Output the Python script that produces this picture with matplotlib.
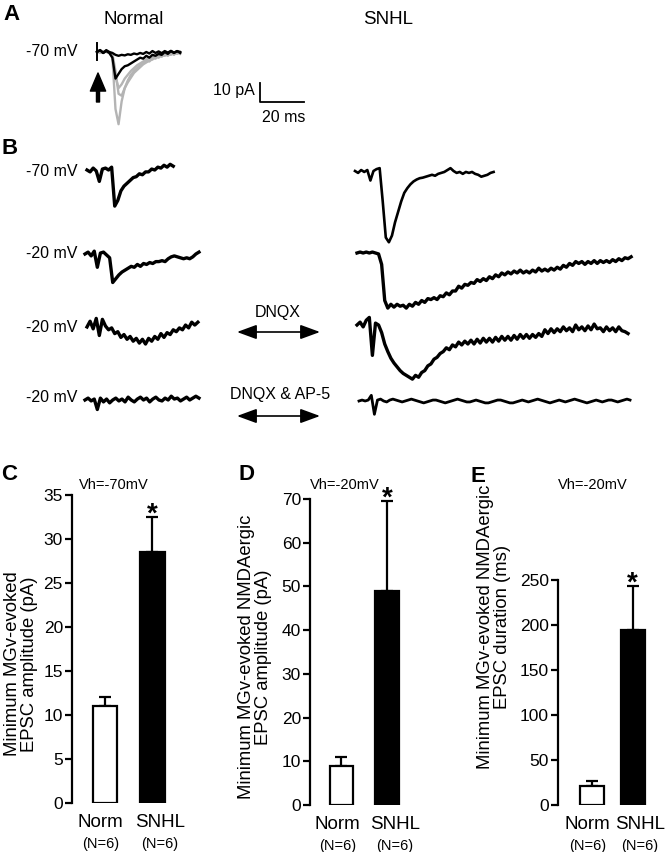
'''
Recreation of a thalamocortical EPSC figure: example traces (A, B)
and bar summaries of minimum MGv-evoked EPSCs (C, D, E)
'''

import numpy as np
import matplotlib
matplotlib.use('Agg')
import matplotlib.pyplot as plt

plt.rcParams['font.family'] = ['Liberation Sans', 'DejaVu Sans']
NARROW = ['Liberation Sans Narrow', 'Liberation Sans', 'DejaVu Sans']

# ========================================================================
# data
# ========================================================================

# sampling interval of all traces (ms), currents in pA relative to baseline
DT = 1.4

# panel A, Normal at -70 mV (overlaid sweeps)
a_gray1 = [0, 0.5, -0.5, 0.5, 0, -3, -30, -38, -26, -19, -15, -12, -10, -8.5,
           -7, -6, -4, -5, -3, -3.5, -1.5, -2.5, -1, -2, -0.5, -1.5, 0, -1]
a_gray2 = [0, -0.5, 0.5, 0, -0.5, -1, -10, -22, -23, -19, -16, -13.5, -11, -9.5,
           -8, -6.5, -5.5, -4.5, -4, -2.5, -3, -1.5, -2, -1, -1.5, 0, -1, 0]
a_gray3 = [0.5, 0, -0.5, 0.5, -0.5, -2, -13, -19, -17, -14, -12, -10, -8.5, -7,
           -6, -5, -4, -3, -2.5, -2, -1, -1.5, -0.5, -1, 0, -0.5, 0.5, 0]
a_black2 = [0, 1, -0.5, 0.5, -0.5, -3, -14, -11.5, -9, -7.5, -7, -6, -5, -4,
            -3, -3.5, -2, -3, -1.5, -2, -1, -1.5, 0, -1, 0.5, -0.5, 0.5, -0.5]
a_black1 = [0, 1, -0.5, 1, 0, -0.5, -1.5, -2, -1.5, -1.8, -1.2, -1.5, -0.8, -1.2,
            -0.5, -1, 0, -0.8, 0.5, -0.5, 0.3, -0.6, 0.5, -0.3, 0.6, -0.4, 0.4, 0]
a_stim = [4.7, -4.2]

# panel B, Normal
b_norm_70 = [0, -1, 1, -0.5, -6, 0.5, 1, 0, 1.5, -19, -16, -11, -8.5, -7, -5.5,
             -4, -3.5, -2, -2.5, -1, -1, 0.5, 0, 1.5, 1, 2.5, 1.5, 3, 2]
b_norm_20 = [0, 1, -1, 1.5, -7, 0.5, 1, -0.5, -2, -15, -13, -11, -9.5, -8.5, -7.5,
             -6.5, -7, -5.5, -6.5, -5, -5.5, -4.5, -5, -4, -4, -3.5, -4, -2.5,
             -1.5, -1, -1.5, -2, -2.5, -2, -2.5, -1.5, 0, 1]
b_norm_dnqx = [-0.5, 2.5, -1.5, 4, -5, 3.5, 0, -2, -1, -4, -3, -6, -4.5, -7, -5.5,
               -8, -6.5, -9, -7, -9.5, -6.5, -8, -5.5, -7, -4, -6, -3.5, -4.5,
               -2, -3, -1, -2, 0.5, -1, 2, 0.5, 2]
b_norm_ap5 = [0, 1, -0.5, 0.5, -5, 1, -1, 0.5, -1.5, 0, 1, -0.5, 0.5, -1, 1.5,
              0, -1, 0.5, 1.5, 0, 1, -1, 0.5, 1.5, 0, -0.5, 1, 0, 2, 0.5, 1,
              -0.5, 0.5, 1.5, 0, 1, 2, 1]

# panel B, SNHL
b_snhl_70 = [0, -1, 0.5, -0.5, 0.5, -5, 0, 1, 1.5, -16, -35, -37.5, -34, -27,
             -21.5, -16, -11.5, -9, -7, -5.5, -4.5, -3.8, -3.5, -3, -2.5, -2,
             -2.5, -1.5, -1, -0.5, 0.5, 1.5, 0, -1, -0.5, -1.5, -0.5, -1, -0.5,
             -1.5, -2, -3, -2.5, -2, -1, -0.5]
b_snhl_20 = [0, 0.5, 0, 0.5, 0, 0.5, 0, -0.5,
             -6, -25, -29, -27, -28.5, -27, -28, -27.5, -29, -27, -28, -26, -27,
             -25, -26, -24, -24.5, -23.5, -24.5, -22.5, -23, -21, -22, -20, -20,
             -17.5, -18.5, -16.5, -17, -15.5, -16, -14, -15, -13.5, -14.5, -12.5,
             -13.5, -11.5, -12.5, -10.5, -11.5, -10, -11, -9.5, -10.5, -9, -10.5,
             -9.5, -10.5, -9, -10, -8, -9.5,
             -8.5, -9.5, -8, -9, -7.5, -8.5, -6.5, -7.5, -5.5, -6.5, -4.5, -5.5,
             -4.5, -6, -4.5, -5.5, -4, -5.5, -4, -5, -4, -5, -3.5, -4.5, -3, -4,
             -2.5, -3, -2]
b_snhl_dnqx = [0, 1.5, -1, 2.5, 4, -16, 1, 0,
               -4, -10, -14, -17.5, -20, -22, -24, -25.5, -26.5, -27.5, -28.5,
               -26.5, -27.5, -25, -24, -21.5, -20.5, -18, -17, -15, -14, -12, -13,
               -10.5, -11.5, -9, -10.5, -8.5, -10, -8, -10, -7.5, -9.5, -7, -9,
               -7, -9, -6.5, -8.5, -6, -8, -6, -8, -5.5, -7.5, -5, -7,
               -5, -7, -5, -6.5, -4.5, -6, -2.5, -4.5, -2, -4, -2, -3.5, -1, -3,
               -1.5, -3.5, 0, -2.5, -1, -3, -0.5, -2.5, 0.5, -2, -1.5, -3.5, -1,
               -3, -1.5, -3.5, -1, -3, -3.5, -4.5]
b_snhl_ap5 = [0, 0.5, 0, 0.5, 3, -7, 0.5, 1, 0, -0.5, 0.5, 1, 0.5, 0, -0.5, 0,
              0.5, 1, 0.5, 0, -0.5, -1, -0.5, 0, 0.5, 0.5, 0, -0.5, -1, -0.5, 0,
              0.5, 1, 0.5, 0, -0.5, -0.5, 0, 0.5, 0, -0.5, -1, -1, -0.5, 0, 0.5,
              0.5, 0, -0.5, -1, -1, -0.5, 0, 0.5, 0, -0.5, 0, 0.5, 1, 0.5, 0,
              -0.5, -1, -0.5, 0, 0.5, 0, -0.5, 0, 0.5, 1, 0.5, 0, -0.5, -1, -0.5,
              0, 0.5, 0, -0.5, 0, 0.5, 0.5, 0, -0.5, 0, 0.5, 1, 0.5]

# bar summaries
groups = ['Norm', 'SNHL']
group_n = ['(N=6)', '(N=6)']
c_mean = [11, 28.5]
c_err = [1, 4]
d_mean = [9, 49]
d_err = [2, 20.5]
e_mean = [21, 194]
e_err = [5.5, 49]

# ========================================================================
# figure layout (pixel based)
# ========================================================================
W, H = 666, 852
PX_MS = 2.2   # px per ms (20 ms scale bar = 44 px)
PX_PA = 1.9   # px per pA (10 pA scale bar = 19 px)

fig = plt.figure(figsize=(W/100, H/100), dpi=100)
ax = fig.add_axes([0, 0, 1, 1])
ax.set_xlim(0, W/PX_MS)
ax.set_ylim(-H/PX_PA, 0)
ax.axis('off')


def px(x, y):
    return x/PX_MS, -y/PX_PA


def trace(vals, x0, y0, color='k', lw=2.4):
    t0, i0 = px(x0, y0)
    t = t0 + np.arange(len(vals))*DT
    ax.plot(t, i0 + np.asarray(vals), color=color, lw=lw,
            solid_joinstyle='round')


def label(x, y, s, size=11, **kw):
    ax.text(*px(x, y), s, fontsize=size, va='center', **kw)


# ------------------------------------------------------------------ A
label(12, 15, 'A', 16, ha='center', fontweight='bold')
label(134, 19, 'Normal', 13.5, ha='center')
label(388, 20, 'SNHL', 13.5, ha='center')
label(77, 52, '-70 mV', 11.5, ha='right')

gray = '#b4b4b4'
for tr in [a_gray1, a_gray2, a_gray3]:
    trace(tr, 97, 52, gray, 1.7)
for tr in [a_black2, a_black1]:
    trace(tr, 97, 52, 'k', 1.7)
t0, i0 = px(97, 52)
ax.plot([t0, t0], [i0 + a_stim[0], i0 + a_stim[1]], color='k', lw=1.4)

# stimulus arrow
ax.annotate('', xy=px(98, 73), xytext=px(98, 102),
            arrowprops=dict(facecolor='black', edgecolor='black',
                            width=2.2, headwidth=11, headlength=13, shrink=0))

# scale bar 10 pA / 20 ms
sx, sy = px(260, 102)
ax.plot([sx, sx, sx + 20], [sy + 10, sy, sy], color='k', lw=1.3)
label(255, 90, '10 pA', 11.5, ha='right')
label(284, 117, '20 ms', 11.5, ha='center')

# ------------------------------------------------------------------ B
label(10, 148, 'B', 16, ha='center', fontweight='bold')
label(77, 172, '-70 mV', 11.5, ha='right')
label(77, 253, '-20 mV', 11.5, ha='right')
label(77, 327, '-20 mV', 11.5, ha='right')
label(77, 397, '-20 mV', 11.5, ha='right')

trace(b_norm_70, 87, 170)
trace(b_norm_20, 85, 254)
trace(b_norm_dnqx, 87, 326)
trace(b_norm_ap5, 85, 400)

trace(b_snhl_70, 355, 171, lw=1.9)
trace(b_snhl_20, 357, 253)
trace(b_snhl_dnqx, 357, 325)
trace(b_snhl_ap5, 359, 401, lw=2.0)

label(278, 313, 'DNQX', 11.5, ha='center')
label(280, 395, 'DNQX & AP-5', 11.5, ha='center')
for yy in [332, 416]:
    ax.annotate('', xy=px(320, yy), xytext=px(237, yy),
                arrowprops=dict(arrowstyle='<|-|>,head_length=0.6,head_width=0.22',
                                mutation_scale=20, color='k', lw=1.2,
                                shrinkA=0, shrinkB=0))

# ========================================================================
# bar panels C, D, E
# ========================================================================


def bar_panel(left, top, right, bottom, xlim, ymax, ystep, width,
              means, errs):
    bx = fig.add_axes([left/W, 1 - bottom/H, (right - left)/W, (bottom - top)/H])
    bx.patch.set_visible(False)
    bx.bar([0, 1], means, width, color=['white', 'black'],
           edgecolor='black', linewidth=1.6, zorder=2)
    bx.errorbar([0, 1], means, yerr=[[0, 0], errs], fmt='none', ecolor='black',
                elinewidth=1.6, capsize=4.5, capthick=1.6, zorder=1, clip_on=False)
    bx.set_xlim(*xlim)
    bx.set_ylim(0, ymax)
    bx.set_yticks(np.arange(0, ymax + 1, ystep))
    for s in ['top', 'right', 'bottom']:
        bx.spines[s].set_visible(False)
    bx.spines['left'].set_linewidth(1.6)
    bx.set_xticks([])
    bx.tick_params(axis='y', direction='out', length=5, width=1.6,
                   labelsize=12.5, pad=1.5)
    for i, (g, n) in enumerate(zip(groups, group_n)):
        dx = -3 if i == 0 else 5.5
        bx.annotate(g, xy=(i, 0), xycoords=('data', 'axes fraction'),
                    xytext=(dx, -14), textcoords='offset points',
                    ha='center', va='center', fontsize=13.5)
        bx.annotate(n, xy=(i, 0), xycoords=('data', 'axes fraction'),
                    xytext=(dx, -29.5), textcoords='offset points',
                    ha='center', va='center', fontsize=10.5)
    bx.annotate('*', xy=(1, means[1] + errs[1]), xytext=(0, -3),
                textcoords='offset points', ha='center', va='baseline',
                fontsize=20, fontweight='bold', annotation_clip=False)
    return bx


bar_panel(72, 495, 180, 803, (-0.695, 1.58), 35, 5, 0.51, c_mean, c_err)
bar_panel(310, 499, 415, 805, (-0.685, 1.6), 70, 10, 0.52, d_mean, d_err)
bar_panel(558, 580, 660, 805, (-0.817, 1.67), 250, 50, 0.585, e_mean, e_err)

# panel letters and holding potentials
label(9, 475, 'C', 16, ha='center', fontweight='bold')
label(246, 475, 'D', 16, ha='center', fontweight='bold')
label(478, 476, 'E', 16, ha='center', fontweight='bold')
label(79, 485, 'Vh=-70mV', 10.5, ha='left', family=NARROW)
label(310, 485, 'Vh=-20mV', 10.5, ha='left', family=NARROW)
label(558, 485, 'Vh=-20mV', 10.5, ha='left', family=NARROW)

# y axis titles
ylab = dict(rotation=90, ha='center', va='center', multialignment='center')
fig.text(21/W, 1 - 664/H, 'Minimum MGv-evoked\nEPSC amplitude (pA)',
         fontsize=13.3, linespacing=1.0, **ylab)
fig.text(255/W, 1 - 657/H, 'Minimum MGv-evoked NMDAergic\nEPSC amplitude (pA)',
         fontsize=13.3, linespacing=1.0, **ylab)
fig.text(494/W, 1 - 627/H, 'Minimum MGv-evoked NMDAergic\nEPSC duration (ms)',
         fontsize=13.3, linespacing=1.0, family=NARROW, **ylab)

plt.savefig('out.png', dpi=100)
